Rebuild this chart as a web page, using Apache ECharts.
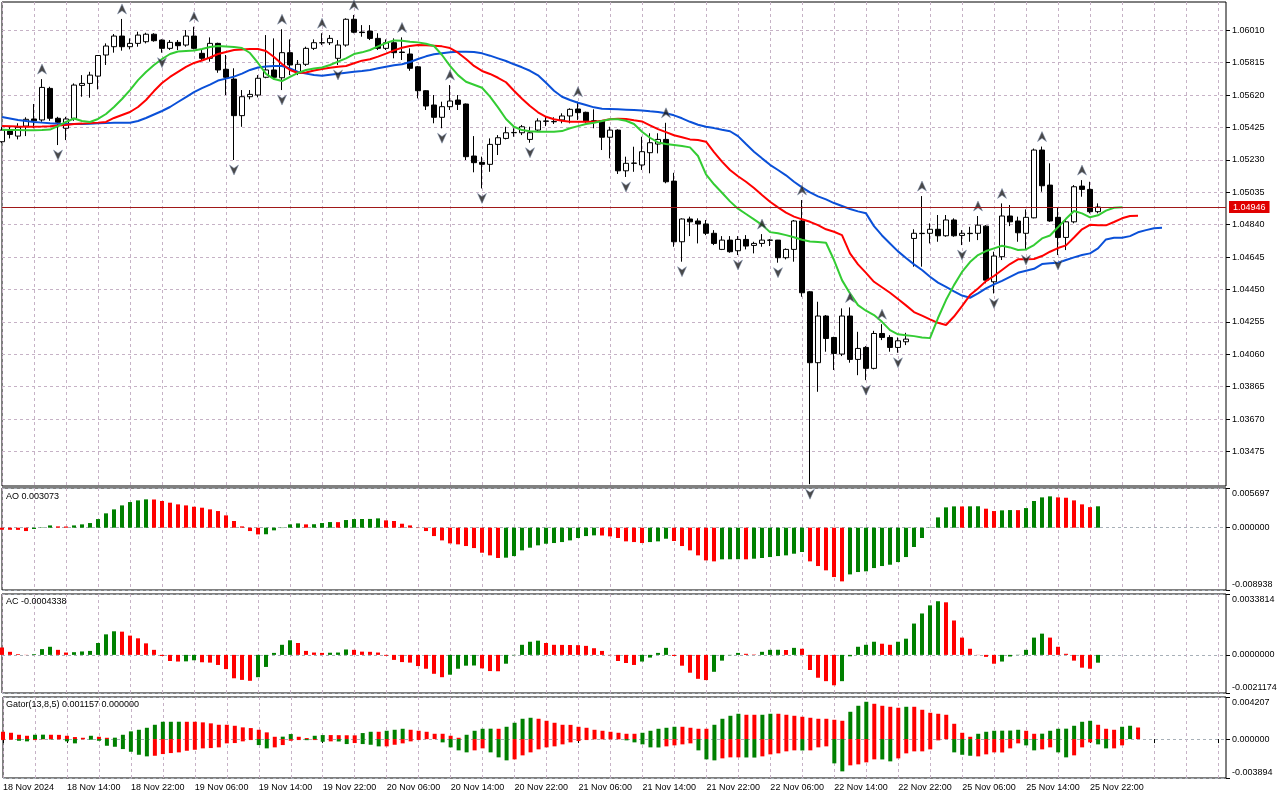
<!DOCTYPE html>
<html><head><meta charset="utf-8">
<script src="https://cdn.jsdelivr.net/npm/echarts@6/dist/echarts.min.js"></script>
<style>html,body{margin:0;padding:0;background:#fff}#c{width:1280px;height:800px}</style>
</head><body><div id="c"></div>
<script>
// ---------- price data (EURUSD H1, 18 Nov 06:00 .. 25 Nov 23:00) ----------
const open = [
1.05339,1.05403,1.05373,1.05433,1.05476,1.05470,1.05660,1.05480,1.05420,1.05480,
1.05678,1.05690,1.05734,1.05861,1.05911,1.05975,1.05911,1.05931,1.05941,1.05986,
1.05951,1.05901,1.05937,1.05921,1.05975,1.05871,1.05841,1.05931,1.05775,1.05716,
1.05496,1.05610,1.05620,1.05727,1.05771,1.05724,1.05875,1.05751,1.05805,1.05901,
1.05935,1.05935,1.05841,1.05921,1.06076,1.05999,1.06005,1.05961,1.05901,1.05935,
1.05879,1.05867,1.05790,1.05646,1.05560,1.05486,1.05550,1.05590,1.05566,1.05253,
1.05215,1.05203,1.05323,1.05359,1.05393,1.05393,1.05353,1.05409,1.05464,1.05459,
1.05470,1.05494,1.05536,1.05516,1.05465,1.05465,1.05366,1.05409,1.05164,1.05209,
1.05199,1.05273,1.05325,1.05353,1.05102,1.04737,1.04874,1.04862,1.04844,1.04788,
1.04691,1.04747,1.04683,1.04751,1.04715,1.04727,1.04747,1.04747,1.04641,1.04691,
1.04862,1.04436,1.04009,1.04290,1.04161,1.04061,1.04290,1.04029,1.04101,1.03975,
1.04185,1.04161,1.04101,1.04135,1.04757,1.04788,1.04788,1.04812,1.04773,1.04868,
1.04775,1.04788,1.04788,1.04831,1.04496,1.04647,1.04892,1.04862,1.04788,1.04881,
1.05289,1.05078,1.04884,1.04763,1.04857,1.05072,1.05052,1.04918];
const high = [
1.05428,1.05429,1.05450,1.05486,1.05566,1.05716,1.05670,1.05489,1.05489,1.05690,
1.05740,1.05760,1.05861,1.05931,1.05987,1.06078,1.05961,1.06001,1.05995,1.05992,
1.05955,1.05951,1.05951,1.06011,1.06031,1.05891,1.05967,1.05935,1.05861,1.05781,
1.05650,1.05650,1.05740,1.05981,1.05961,1.06016,1.05955,1.05831,1.05911,1.05955,
1.05992,1.05981,1.05951,1.06082,1.06102,1.06041,1.06041,1.05992,1.05955,1.05961,
1.05967,1.05901,1.05795,1.05649,1.05620,1.05580,1.05680,1.05620,1.05569,1.05373,
1.05249,1.05359,1.05379,1.05429,1.05420,1.05440,1.05429,1.05480,1.05494,1.05486,
1.05510,1.05540,1.05580,1.05520,1.05534,1.05470,1.05429,1.05414,1.05249,1.05309,
1.05369,1.05390,1.05390,1.05453,1.05152,1.04878,1.04888,1.04878,1.04868,1.04807,
1.04771,1.04771,1.04771,1.04777,1.04737,1.04783,1.04753,1.04748,1.04697,1.04868,
1.04988,1.04440,1.04376,1.04296,1.04165,1.04336,1.04342,1.04195,1.04109,1.04201,
1.04241,1.04175,1.04161,1.04189,1.04812,1.05012,1.04848,1.04898,1.04898,1.04878,
1.04807,1.04827,1.04892,1.04837,1.04677,1.04968,1.04958,1.04888,1.04932,1.05298,
1.05310,1.05209,1.04944,1.04868,1.05078,1.05108,1.05098,1.04968];
const low = [
1.05331,1.05359,1.05353,1.05373,1.05420,1.05459,1.05465,1.05319,1.05349,1.05465,
1.05610,1.05604,1.05654,1.05801,1.05875,1.05887,1.05895,1.05911,1.05931,1.05941,
1.05875,1.05891,1.05891,1.05911,1.05895,1.05831,1.05821,1.05754,1.05620,1.05229,
1.05429,1.05594,1.05606,1.05721,1.05715,1.05650,1.05740,1.05740,1.05795,1.05891,
1.05921,1.05921,1.05801,1.05911,1.05992,1.05971,1.05951,1.05891,1.05891,1.05841,
1.05831,1.05766,1.05600,1.05530,1.05450,1.05420,1.05530,1.05530,1.05229,1.05155,
1.05058,1.05158,1.05259,1.05353,1.05369,1.05379,1.05333,1.05399,1.05433,1.05446,
1.05450,1.05450,1.05470,1.05453,1.05420,1.05289,1.05239,1.05145,1.05127,1.05158,
1.05169,1.05149,1.05269,1.05089,1.04707,1.04617,1.04771,1.04727,1.04777,1.04717,
1.04687,1.04671,1.04657,1.04691,1.04667,1.04707,1.04711,1.04611,1.04631,1.04617,
1.04406,1.03278,1.03834,1.04075,1.03965,1.04049,1.04009,1.03934,1.03904,1.03969,
1.04145,1.04075,1.04069,1.04115,1.04587,1.04587,1.04727,1.04737,1.04767,1.04767,
1.04717,1.04737,1.04747,1.04487,1.04426,1.04627,1.04831,1.04737,1.04687,1.04878,
1.05038,1.04857,1.04657,1.04687,1.04848,1.05008,1.04908,1.04908];
const close = [
1.05409,1.05383,1.05426,1.05474,1.05465,1.05666,1.05480,1.05456,1.05476,1.05680,
1.05690,1.05740,1.05858,1.05915,1.05975,1.05911,1.05931,1.05981,1.05986,1.05947,
1.05901,1.05937,1.05917,1.05975,1.05901,1.05841,1.05931,1.05771,1.05727,1.05496,
1.05610,1.05624,1.05721,1.05771,1.05727,1.05875,1.05801,1.05805,1.05901,1.05935,
1.05934,1.05961,1.05921,1.06076,1.05998,1.05996,1.05961,1.05901,1.05935,1.05875,
1.05876,1.05781,1.05646,1.05554,1.05486,1.05550,1.05584,1.05564,1.05249,1.05213,
1.05203,1.05323,1.05363,1.05393,1.05395,1.05429,1.05393,1.05464,1.05462,1.05461,
1.05494,1.05534,1.05514,1.05465,1.05462,1.05366,1.05409,1.05164,1.05209,1.05211,
1.05279,1.05333,1.05353,1.05098,1.04737,1.04874,1.04857,1.04844,1.04788,1.04727,
1.04747,1.04677,1.04751,1.04711,1.04727,1.04747,1.04746,1.04641,1.04691,1.04862,
1.04430,1.04009,1.04290,1.04155,1.04065,1.04290,1.04029,1.04095,1.03975,1.04185,
1.04161,1.04101,1.04141,1.04151,1.04788,1.04786,1.04812,1.04773,1.04868,1.04773,
1.04788,1.04786,1.04837,1.04506,1.04651,1.04892,1.04857,1.04791,1.04884,1.05289,
1.05074,1.04862,1.04763,1.04857,1.05068,1.05052,1.04918,1.04946];

// ---------- Alligator (values as plotted, shifts already applied) ----------
const jaw = [
1.05488,1.05479,1.05470,1.05464,1.05458,1.05454,1.05450,1.05447,1.05446,1.05446,
1.05446,1.05447,1.05450,1.05451,1.05453,1.05453,1.05453,1.05464,1.05482,1.05503,
1.05524,1.05548,1.05578,1.05608,1.05638,1.05662,1.05683,1.05707,1.05719,1.05731,
1.05749,1.05771,1.05786,1.05792,1.05795,1.05795,1.05780,1.05759,1.05749,1.05740,
1.05736,1.05742,1.05748,1.05754,1.05760,1.05765,1.05771,1.05781,1.05790,1.05799,
1.05805,1.05819,1.05837,1.05853,1.05865,1.05871,1.05877,1.05881,1.05881,1.05879,
1.05871,1.05857,1.05841,1.05825,1.05805,1.05787,1.05766,1.05739,1.05694,1.05646,
1.05610,1.05590,1.05574,1.05560,1.05546,1.05538,1.05536,1.05534,1.05532,1.05530,
1.05527,1.05522,1.05518,1.05510,1.05498,1.05480,1.05459,1.05441,1.05429,1.05421,
1.05411,1.05402,1.05373,1.05325,1.05279,1.05239,1.05200,1.05169,1.05137,1.05098,
1.05064,1.05034,1.05010,1.04992,1.04970,1.04952,1.04934,1.04920,1.04908,1.04831,
1.04775,1.04727,1.04679,1.04639,1.04601,1.04567,1.04526,1.04491,1.04466,1.04439,
1.04413,1.04400,1.04426,1.04456,1.04480,1.04502,1.04526,1.04550,1.04562,1.04574,
1.04603,1.04607,1.04611,1.04627,1.04643,1.04657,1.04667,1.04697,1.04751,1.04761,
1.04761,1.04771,1.04794,1.04807,1.04818,1.04821];
const teeth = [
1.05433,1.05432,1.05430,1.05429,1.05429,1.05430,1.05432,1.05436,1.05440,1.05446,
1.05448,1.05451,1.05454,1.05458,1.05482,1.05500,1.05518,1.05548,1.05590,1.05644,
1.05692,1.05729,1.05759,1.05789,1.05813,1.05828,1.05846,1.05867,1.05879,1.05891,
1.05894,1.05897,1.05897,1.05885,1.05849,1.05807,1.05771,1.05753,1.05756,1.05768,
1.05777,1.05784,1.05790,1.05795,1.05811,1.05827,1.05835,1.05851,1.05869,1.05889,
1.05905,1.05915,1.05921,1.05919,1.05917,1.05913,1.05903,1.05875,1.05837,1.05795,
1.05765,1.05747,1.05724,1.05697,1.05646,1.05598,1.05554,1.05516,1.05489,1.05474,
1.05465,1.05459,1.05459,1.05459,1.05459,1.05465,1.05474,1.05477,1.05476,1.05468,
1.05461,1.05438,1.05415,1.05397,1.05378,1.05366,1.05353,1.05349,1.05339,1.05277,
1.05219,1.05169,1.05131,1.05098,1.05060,1.05018,1.04978,1.04944,1.04912,1.04888,
1.04872,1.04857,1.04837,1.04812,1.04797,1.04777,1.04667,1.04601,1.04550,1.04496,
1.04463,1.04430,1.04392,1.04354,1.04314,1.04292,1.04270,1.04249,1.04236,1.04287,
1.04350,1.04416,1.04456,1.04500,1.04531,1.04567,1.04603,1.04631,1.04632,1.04633,
1.04651,1.04677,1.04699,1.04715,1.04763,1.04812,1.04839,1.04837,1.04836,1.04856,
1.04878,1.04892,1.04893];
const lips = [
1.05411,1.05410,1.05409,1.05408,1.05408,1.05409,1.05412,1.05433,1.05458,1.05479,
1.05464,1.05458,1.05476,1.05506,1.05548,1.05596,1.05650,1.05710,1.05759,1.05801,
1.05837,1.05867,1.05882,1.05885,1.05888,1.05897,1.05909,1.05915,1.05912,1.05909,
1.05903,1.05873,1.05813,1.05747,1.05716,1.05704,1.05729,1.05753,1.05771,1.05780,
1.05786,1.05801,1.05821,1.05841,1.05867,1.05877,1.05891,1.05913,1.05933,1.05949,
1.05947,1.05941,1.05937,1.05929,1.05915,1.05861,1.05796,1.05740,1.05700,1.05682,
1.05664,1.05610,1.05546,1.05476,1.05429,1.05409,1.05402,1.05399,1.05399,1.05399,
1.05403,1.05420,1.05433,1.05446,1.05453,1.05464,1.05474,1.05474,1.05465,1.05446,
1.05399,1.05363,1.05335,1.05325,1.05319,1.05313,1.05305,1.05253,1.05143,1.05083,
1.05032,1.04980,1.04936,1.04904,1.04872,1.04839,1.04795,1.04788,1.04777,1.04764,
1.04749,1.04739,1.04735,1.04731,1.04627,1.04506,1.04426,1.04356,1.04322,1.04296,
1.04255,1.04205,1.04180,1.04175,1.04169,1.04161,1.04157,1.04278,1.04386,1.04476,
1.04555,1.04615,1.04657,1.04681,1.04697,1.04713,1.04703,1.04687,1.04691,1.04717,
1.04757,1.04775,1.04824,1.04875,1.04922,1.04908,1.04884,1.04896,1.04924,1.04942,
1.04944];

// ---------- Fractals (bar indices) ----------
const fractalUp = [5,15,24,35,40,44,50,56,72,83,95,100,106,110,115,122,125,130,135];
const fractalDown = [7,20,29,35,42,55,60,66,78,85,92,97,101,108,112,120,124,128,132];

// ---------- Awesome Oscillator ----------
const aoValues = [
-0.00029,-0.00030,-0.00031,-0.00048,-0.00019,0.00005,0.00033,0.00019,0.00017,0.00033,
0.00048,0.00067,0.00124,0.00206,0.00263,0.00320,0.00368,0.00392,0.00407,0.00405,
0.00383,0.00359,0.00335,0.00320,0.00301,0.00287,0.00263,0.00239,0.00177,0.00096,
0.00019,-0.00048,-0.00096,-0.00094,-0.00038,-0.00005,0.00048,0.00062,0.00048,0.00050,
0.00067,0.00081,0.00080,0.00110,0.00124,0.00125,0.00126,0.00134,0.00105,0.00096,
0.00057,0.00033,-0.00005,-0.00048,-0.00120,-0.00182,-0.00225,-0.00239,-0.00263,-0.00292,
-0.00359,-0.00397,-0.00435,-0.00430,-0.00407,-0.00325,-0.00287,-0.00253,-0.00230,-0.00220,
-0.00206,-0.00182,-0.00148,-0.00120,-0.00110,-0.00112,-0.00124,-0.00148,-0.00196,-0.00206,
-0.00220,-0.00206,-0.00196,-0.00158,-0.00191,-0.00263,-0.00325,-0.00397,-0.00469,-0.00483,
-0.00454,-0.00453,-0.00452,-0.00454,-0.00445,-0.00435,-0.00421,-0.00407,-0.00397,-0.00373,
-0.00349,-0.00483,-0.00550,-0.00612,-0.00708,-0.00770,-0.00670,-0.00636,-0.00626,-0.00579,
-0.00550,-0.00531,-0.00493,-0.00421,-0.00277,-0.00148,0.00005,0.00148,0.00292,0.00306,
0.00305,0.00307,0.00308,0.00273,0.00239,0.00249,0.00253,0.00252,0.00282,0.00383,
0.00435,0.00450,0.00435,0.00430,0.00392,0.00335,0.00295,0.003073];
const aoColors = "rrrrgggrrg"+"gggggggggr"+"rrrrrrrrrr"+"rrrgggggrg"+"ggrgggggrr"+"rrrrrrrrrr"+"rrrggggggg"+"gggggrrrrr"+"rgggrrrrrr"+"gggrgggggg"+"grrrrrgggg"+"gggggggggg"+"rggrrggrgg"+"ggrrrrrg";

// ---------- Accelerator Oscillator ----------
const acValues = [
0.00041,0.00017,0.00004,-0.00001,0.00004,0.00032,0.00045,0.00028,0.00013,0.00015,
0.00019,0.00022,0.00066,0.00114,0.00131,0.00129,0.00107,0.00092,0.00064,0.00028,
-0.00006,-0.00034,-0.00037,-0.00036,-0.00030,-0.00041,-0.00043,-0.00056,-0.00079,-0.00130,
-0.00139,-0.00144,-0.00124,-0.00067,0.00011,0.00056,0.00081,0.00066,0.00022,0.00013,
0.00011,0.00012,0.00013,0.00030,0.00028,0.00018,0.00017,0.00013,-0.00005,-0.00028,
-0.00040,-0.00043,-0.00062,-0.00077,-0.00105,-0.00124,-0.00110,-0.00077,-0.00060,-0.00059,
-0.00075,-0.00090,-0.00091,-0.00049,-0.00002,0.00056,0.00073,0.00079,0.00066,0.00056,
0.000555,0.00055,0.00054,0.00050,0.00037,0.00022,-0.00002,-0.00034,-0.00045,-0.00056,
-0.00037,-0.00015,0.00011,0.00039,-0.00006,-0.00060,-0.00099,-0.00133,-0.00140,-0.00094,
-0.00032,-0.00002,0.00011,0.00006,0.00002,0.00017,0.00028,0.000285,0.00027,0.00039,
0.00034,-0.00084,-0.00127,-0.00146,-0.00169,-0.00146,-0.00008,0.00045,0.00056,0.00073,
0.00062,0.00056,0.00073,0.00090,0.00174,0.00230,0.00275,0.00298,0.00292,0.00191,
0.00096,0.00034,-0.00001,-0.00011,-0.00049,-0.00037,-0.00009,0.00001,0.00028,0.00096,
0.00118,0.00096,0.00045,0.00006,-0.00032,-0.00071,-0.00077,-0.0004338];
const acColors = "rrrrgggrrg"+"gggggrrrrr"+"rrrggrrrrr"+"rrgggggrrr"+"rgggrrrrrr"+"rrrrrrgggg"+"rrrgggggrr"+"rrrrrrrrrr"+"ggggrrrrrg"+"gggrrgggrg"+"rrrrrggggg"+"rrggggggrr"+"rrrrrggggg"+"grrrrrrg";

// ---------- Gator Oscillator ----------
const gatorUp = [
0.00073,0.00063,0.00043,0.00033,0.00043,0.00044,0.00043,0.00042,0.00033,0.00020,
0.00013,0.00033,0.00023,0.00013,0.00014,0.00043,0.00077,0.00093,0.00113,0.00143,
0.00173,0.00173,0.001735,0.00173,0.00173,0.00167,0.00157,0.00143,0.00143,0.00133,
0.00117,0.00110,0.00093,0.00067,0.00023,0.00024,0.00050,0.00023,0.00010,0.00033,
0.00040,0.00040,0.00039,0.00038,0.00037,0.00060,0.00073,0.00073,0.00083,0.00093,
0.00103,0.00093,0.00083,0.00073,0.00053,0.00053,0.00033,0.00013,0.00043,0.00083,
0.00103,0.00104,0.00103,0.00123,0.00163,0.00203,0.00213,0.00203,0.00183,0.00163,
0.00143,0.00142,0.00123,0.00113,0.00093,0.00083,0.00073,0.00063,0.00053,0.00053,
0.00063,0.00083,0.00103,0.00113,0.00123,0.00123,0.00113,0.00103,0.00103,0.00143,
0.00203,0.00233,0.00253,0.00243,0.00243,0.00243,0.00253,0.00253,0.00243,0.00233,
0.00223,0.00213,0.00203,0.00203,0.00193,0.00183,0.00273,0.00333,0.00373,0.00353,
0.00333,0.00323,0.00313,0.00323,0.00323,0.00293,0.00263,0.00253,0.00243,0.00153,
0.00063,0.00023,0.00053,0.00073,0.00083,0.00084,0.00085,0.00093,0.00083,0.00053,
0.00054,0.00083,0.00103,0.00104,0.00133,0.00173,0.00183,0.00143,0.00103,0.00093,
0.00123,0.00133,0.001157];
const gatorUpColors = "rrrrggrrrr"+"rgrrgggggg"+"gggrrrrrrr"+"rrrrrggrrg"+"grrrrggrgg"+"grrrrrrrgg"+"ggrggggrrr"+"rrrrrrrrrr"+"gggggrrrrg"+"gggrrggrrr"+"rrrrrrgggr"+"rrrgrrrrrr"+"rrggggggrr"+"gggggggrrr"+"ggr";
const gatorDown = [
-0.00010,-0.00007,-0.00017,-0.00023,-0.00010,-0.00003,-0.00004,-0.00003,-0.00023,-0.00043,
-0.00003,-0.00007,-0.00017,-0.00067,-0.00077,-0.00100,-0.00127,-0.00157,-0.00173,-0.00167,
-0.00150,-0.00140,-0.00133,-0.00117,-0.00107,-0.00093,-0.00090,-0.00083,-0.00043,-0.00040,
-0.00023,-0.00010,-0.00060,-0.00093,-0.00083,-0.00060,-0.00017,-0.00010,-0.00011,-0.00010,
-0.00027,-0.00023,-0.00024,-0.00050,-0.00040,-0.00050,-0.00057,-0.00073,-0.00073,-0.00057,
-0.00043,-0.00023,-0.00010,-0.00001,-0.000005,-0.00033,-0.00083,-0.00113,-0.00133,-0.00113,
-0.00093,-0.00133,-0.00183,-0.00213,-0.00203,-0.00163,-0.00133,-0.00103,-0.00083,-0.00073,
-0.00053,-0.00033,-0.00020,-0.00010,-0.00003,-0.00003,-0.00003,-0.00003,-0.00013,-0.00033,
-0.00053,-0.00083,-0.00084,-0.00073,-0.00063,-0.00053,-0.00043,-0.00113,-0.00203,-0.00213,
-0.00193,-0.00183,-0.00183,-0.00184,-0.00185,-0.00173,-0.00153,-0.00143,-0.00123,-0.00113,
-0.00114,-0.00113,-0.00083,-0.00073,-0.00243,-0.00323,-0.00263,-0.00253,-0.00233,-0.00203,
-0.00204,-0.00223,-0.00193,-0.00143,-0.00123,-0.00123,-0.00103,-0.00013,-0.00001,-0.00133,
-0.00157,-0.00167,-0.00173,-0.00153,-0.00133,-0.00134,-0.00093,-0.00043,-0.00063,-0.00113,
-0.00103,-0.00083,-0.00133,-0.00183,-0.00163,-0.00083,-0.00033,-0.00053,-0.00093,-0.00093,
-0.00063];
const gatorDownColors = "rrggrrgrgg"+"rggggggggr"+"rrrrrrrrrr"+"rrggrrrrgr"+"grggrgggrr"+"rrrrrggggr"+"rgggrrrrrr"+"rrrrrrrrgg"+"gggrrrrggg"+"rrrggrrrrr"+"grrrggrrrr"+"ggrrrrrrrg"+"ggrrrrrrgg"+"rrggrrrggr"+"r";

// ---------- axes ----------
const priceTicks = [1.06010,1.05815,1.05620,1.05425,1.05230,1.05035,1.04840,1.04645,1.04450,1.04255,1.04060,1.03865,1.03670,1.03475];
const priceRange = [1.03267, 1.06180];
const aoRange = [-0.008938, 0.005697];
const acRange = [-0.0021174, 0.0033814];
const gatorRange = [-0.003894, 0.004207];
const xTickLabels = ['18 Nov 2024','18 Nov 14:00','18 Nov 22:00','19 Nov 06:00','19 Nov 14:00','19 Nov 22:00',
  '20 Nov 06:00','20 Nov 14:00','20 Nov 22:00','21 Nov 06:00','21 Nov 14:00','21 Nov 22:00',
  '22 Nov 06:00','22 Nov 14:00','22 Nov 22:00','25 Nov 06:00','25 Nov 14:00','25 Nov 22:00'];
const SLOTS = 154; // visible bar slots incl. empty space on the right
const cats = Array.from({length: SLOTS}, (_, i) => String(i));
const lastPrice = close[close.length - 1];

// ---------- styling ----------
const FONT = 'Liberation Sans';
const GRIDC = '#c6b2c6';
const GREEN = '#008000', RED = '#ff0000';
const colored = (vals, cols) => vals.map((v, i) => ({value: v, itemStyle: {color: cols[i] === 'g' ? GREEN : RED}}));

const gridDefs = [
  {top: 2, height: 484},
  {top: 488, height: 102},
  {top: 594, height: 99},
  {top: 697, height: 81}
];
const grid = gridDefs.map(g => ({left: 2, right: 54, top: g.top, height: g.height, show: true,
  borderColor: '#000', borderWidth: 1, backgroundColor: '#fff'}));

const xAxis = gridDefs.map((g, k) => ({
  type: 'category', gridIndex: k, data: cats, boundaryGap: false,
  axisLine: {show: false},
  axisTick: {show: k === 3, interval: 7, length: 4, lineStyle: {color: '#000'}},
  axisLabel: {show: k === 3, interval: 7, align: 'left', margin: 5, fontFamily: FONT, fontSize: 9, color: '#000',
    formatter: (v, i) => (i % 8 === 0 && xTickLabels[i / 8]) ? xTickLabels[i / 8] : ''},
  splitLine: {show: true, interval: 3, lineStyle: {color: GRIDC, type: [3, 3], width: 1}}
}));

function indAxis(k, range, dec) {
  const vals = [range[0], 0, range[1]];
  return {
    type: 'value', gridIndex: k, position: 'right', min: range[0], max: range[1],
    axisLine: {show: false},
    axisTick: {show: true, customValues: vals, length: 4, lineStyle: {color: '#000'}},
    axisLabel: {customValues: vals, margin: 6, fontFamily: FONT, fontSize: 9, color: '#000',
      formatter: v => v > 0 ? '{t|' + v.toFixed(dec) + '}' : (v < 0 ? '{b|' + v.toFixed(dec) + '}' : (0).toFixed(dec)),
      rich: {t: {padding: [11, 0, 0, 0], fontFamily: FONT, fontSize: 9, color: '#000'},
             b: {padding: [0, 0, 11, 0], fontFamily: FONT, fontSize: 9, color: '#000'}}},
    splitLine: {show: true, lineStyle: {color: '#a8b0b8', type: [3, 3], width: 1}}
  };
}

const yAxis = [
  {type: 'value', gridIndex: 0, position: 'right', min: priceRange[0], max: priceRange[1],
   axisLine: {show: false},
   axisTick: {show: true, customValues: priceTicks, length: 4, lineStyle: {color: '#000'}},
   axisLabel: {customValues: priceTicks, margin: 6, formatter: v => v.toFixed(5), fontFamily: FONT, fontSize: 9, color: '#000'},
   splitLine: {show: true, lineStyle: {color: GRIDC, type: [3, 3], width: 1}}},
  indAxis(1, aoRange, 6),
  indAxis(2, acRange, 7),
  indAxis(3, gatorRange, 6)
];

const upArrow = 'path://M5,0 L10,11 L5,7.5 L0,11 Z';
const downArrow = 'path://M0,0 L5,3.5 L10,0 L5,11 Z';

const series = [
  {type: 'candlestick', xAxisIndex: 0, yAxisIndex: 0, barWidth: 5, z: 2,
   data: open.map((o, i) => [o, close[i], low[i], high[i]]),
   itemStyle: {color: '#ffffff', color0: '#000000', borderColor: '#000000', borderColor0: '#000000', borderWidth: 1},
   markLine: {silent: true, symbol: 'none', animation: false, precision: 5,
     data: [{yAxis: lastPrice}],
     lineStyle: {color: '#a01818', width: 1, type: 'solid'},
     label: {show: true, position: 'end', distance: 3, formatter: lastPrice.toFixed(5), color: '#fff',
       backgroundColor: '#e00000', padding: [2, 4, 1, 4], fontFamily: FONT, fontSize: 9}}},
  {type: 'line', name: 'Jaw', xAxisIndex: 0, yAxisIndex: 0, data: jaw, showSymbol: false, z: 3,
   lineStyle: {color: '#0a50d8', width: 2}},
  {type: 'line', name: 'Teeth', xAxisIndex: 0, yAxisIndex: 0, data: teeth, showSymbol: false, z: 3,
   lineStyle: {color: '#ff0000', width: 2}},
  {type: 'line', name: 'Lips', xAxisIndex: 0, yAxisIndex: 0, data: lips, showSymbol: false, z: 3,
   lineStyle: {color: '#33cc33', width: 2}},
  {type: 'scatter', xAxisIndex: 0, yAxisIndex: 0, z: 4, symbol: upArrow, symbolSize: [9, 10], symbolOffset: [0, -10],
   data: fractalUp.map(i => [i, high[i]]), itemStyle: {color: '#1c1c1c', borderColor: '#7888a8', borderWidth: 0.6}},
  {type: 'scatter', xAxisIndex: 0, yAxisIndex: 0, z: 4, symbol: downArrow, symbolSize: [9, 10], symbolOffset: [0, 10],
   data: fractalDown.map(i => [i, low[i]]), itemStyle: {color: '#1c1c1c', borderColor: '#7888a8', borderWidth: 0.6}},
  {type: 'bar', xAxisIndex: 1, yAxisIndex: 1, barWidth: 4, data: colored(aoValues, aoColors)},
  {type: 'bar', xAxisIndex: 2, yAxisIndex: 2, barWidth: 4, data: colored(acValues, acColors)},
  {type: 'bar', xAxisIndex: 3, yAxisIndex: 3, barWidth: 4, barGap: '-100%', data: colored(gatorUp, gatorUpColors)},
  {type: 'bar', xAxisIndex: 3, yAxisIndex: 3, barWidth: 4, barGap: '-100%', data: colored(gatorDown, gatorDownColors)}
];

const txt = (x, y, s) => ({type: 'text', left: x, top: y, z: 10, silent: true,
  style: {text: s, fontFamily: FONT, fontSize: 9, fill: '#000'}});
const graphic = [
  txt(6, 492, 'AO ' + aoValues[aoValues.length - 1].toFixed(6)),
  txt(6, 597, 'AC ' + acValues[acValues.length - 1].toFixed(7)),
  txt(6, 700, 'Gator(13,8,5) ' + gatorUp[gatorUp.length - 1].toFixed(6) + ' ' + (0).toFixed(6))
];

const chart = echarts.init(document.getElementById('c'), null, {renderer: 'canvas'});
chart.setOption({backgroundColor: '#fff', animation: false, grid, xAxis, yAxis, series, graphic});
</script>
</body></html>
